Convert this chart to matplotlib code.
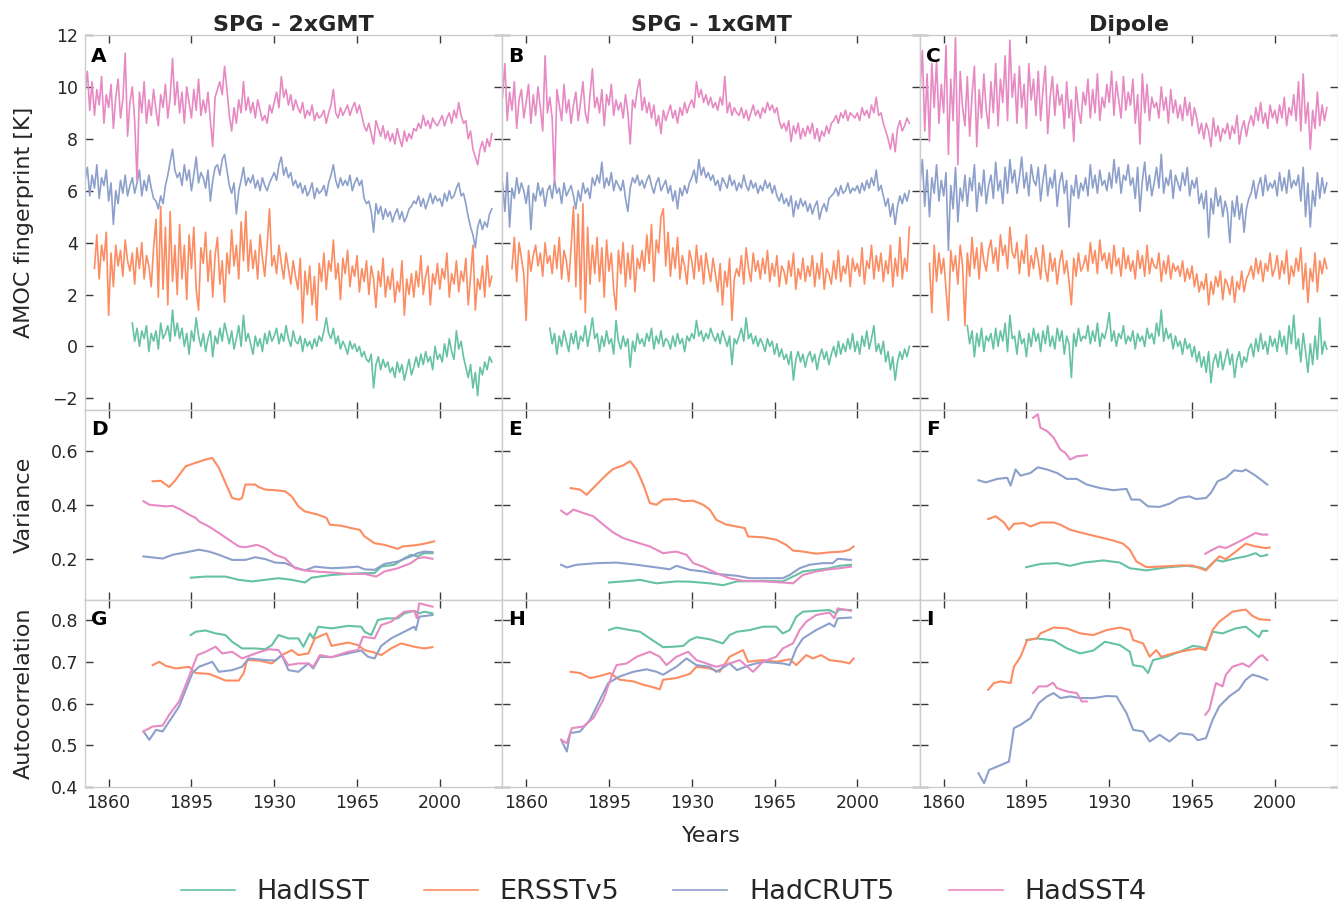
import numpy as np
import matplotlib
matplotlib.use("Agg")
import matplotlib.pyplot as plt

# ---------------- labels ----------------
series_names = ["HadISST", "ERSSTv5", "HadCRUT5", "HadSST4"]
series_colors = ["#66c2a5", "#fc8d62", "#8da0cb", "#e78ac3"]
column_titles = ["SPG - 2xGMT", "SPG - 1xGMT", "Dipole"]
panel_letters = ["A", "B", "C", "D", "E", "F", "G", "H", "I"]
row_labels = ["AMOC fingerprint [K]", "Variance", "Autocorrelation"]
start_years = [1870, 1854, 1850, 1850]
xtick_years = [1860, 1895, 1930, 1965, 2000]
fp_yticks = [-2, 0, 2, 4, 6, 8, 10, 12]
var_yticks = [0.2, 0.4, 0.6]
acf_yticks = [0.4, 0.5, 0.6, 0.7, 0.8]

# ---------------- row 1: fingerprints (annual values) -------
fp_spg2_hadisst = [
    0.9, 0.2, 0.7, 0.0, 0.6, 0.3, 0.8, -0.2, 0.5, 0.2,
    0.6, -0.1, 0.9, 0.3, 0.5, 0.8, 0.2, 1.4, 0.4, 0.9,
    0.3, 0.7, 0.0, 0.5, -0.3, 0.6, 0.2, 1.1, 0.4, 0.0,
    0.5, -0.2, 0.3, 0.6, -0.4, 0.4, 0.1, 0.7, 0.2, 0.9,
    0.5, 0.1, 0.6, -0.1, 0.3, 0.8, 0.0, 1.2, 0.2, 0.5,
    0.1, -0.3, 0.4, 0.0, 0.3, -0.2, 0.5, 0.1, 0.6, 0.2,
    0.4, 0.7, 0.1, 0.5, 0.2, 0.8, 0.3, 0.0, 0.6, 0.2,
    0.1, 0.4, -0.2, 0.3, 0.0, 0.2, -0.1, 0.3, 0.0, 0.4,
    0.2, 0.6, 1.1, 0.5, 0.3, 0.7, 0.1, 0.4, -0.1, 0.2,
    0.0, -0.3, 0.2, -0.1, 0.1, -0.2, 0.0, -0.4, -0.2, -0.5,
    -0.6, -0.3, -1.6, -0.7, -0.4, -0.9, -0.5, -0.8, -0.6, -1.0,
    -0.8, -1.2, -0.6, -1.0, -0.7, -1.3, -0.9, -0.5, -1.1, -0.8,
    -0.4, -0.8, -0.3, -0.7, -0.2, -0.6, -0.4, -0.9, 0.0, -0.5,
    -0.3, -0.6, 0.1, -0.4, 0.3, -0.2, -0.5, 0.6, -0.1, 0.2,
    -0.4, -0.8, -1.2, -0.7, -1.6, -1.0, -1.9, -0.8, -1.1, -0.6,
    -0.9, -0.4, -0.6]
fp_spg2_ersst = [
    3.0, 4.3, 2.6, 3.9, 3.3, 4.4,
    1.2, 3.6, 2.3, 3.9, 3.1, 3.7, 2.7, 4.1, 3.3, 2.9,
    3.6, 2.4, 3.8, 3.0, 4.0, 2.6, 3.5, 3.1, 2.3, 3.8,
    4.9, 1.9, 5.4, 2.2, 4.6, 1.6, 5.2, 2.5, 3.9, 2.0,
    4.7, 2.6, 3.9, 1.8, 4.3, 3.0, 4.6, 2.2, 1.4, 3.8,
    3.2, 4.4, 2.5, 3.7, 1.9, 3.5, 4.2, 2.4, 3.3, 1.7,
    3.6, 2.8, 4.5, 3.1, 3.9, 2.6, 4.8, 3.3, 5.2, 2.9,
    4.1, 3.0, 3.7, 2.6, 4.3, 3.4, 2.7, 3.9, 5.3, 3.1,
    3.5, 2.8, 3.9, 3.2, 2.6, 3.6, 3.0, 2.4, 3.3, 2.7,
    2.2, 3.4, 0.9, 2.9, 2.0, 3.1, 1.6, 2.7, 1.0, 3.2,
    2.5, 3.6, 2.2, 3.3, 2.9, 4.1, 2.6, 3.2, 1.8, 3.4,
    2.8, 3.7, 2.3, 3.1, 2.7, 3.5, 2.1, 3.0, 2.5, 3.3,
    2.0, 3.1, 2.6, 1.5, 2.9, 2.3, 3.4, 1.9, 2.7, 2.2,
    3.0, 1.7, 2.5, 2.1, 3.3, 1.2, 2.6, 2.0, 2.8, 1.9,
    2.9, 2.3, 3.5, 2.0, 2.7, 3.1, 1.6, 2.8, 2.4, 3.2,
    2.2, 3.0, 2.6, 3.6, 1.9, 2.8, 2.4, 3.3, 2.1, 2.9,
    2.5, 3.4, 1.6, 2.7, 3.9, 1.4, 2.6, 2.2, 3.1, 1.9,
    3.5, 2.3, 2.7]
fp_spg2_hadcrut = [
    6.4, 6.9, 5.8, 6.6, 6.1, 7.0, 5.7, 6.5, 6.2, 6.8,
    5.6, 6.3, 4.7, 6.0, 5.5, 6.4, 5.9, 6.6, 5.8, 6.2,
    6.5, 5.9, 6.3, 6.8, 5.8, 6.4, 6.0, 6.6, 6.1, 5.7,
    5.6, 5.3, 5.8, 5.5, 6.2, 6.6, 7.1, 7.6, 6.8, 6.5,
    6.7, 6.2, 7.0, 6.4, 6.8, 6.0, 6.6, 7.3, 6.3, 6.7,
    6.5, 6.1, 6.8, 5.6, 6.4, 6.9, 7.0, 6.6, 7.2, 7.4,
    6.8, 6.2, 5.9, 6.3, 5.1, 6.0, 6.4, 6.9, 6.2, 6.5,
    6.3, 6.6, 6.1, 6.4, 6.0, 6.5, 6.2, 6.0, 6.3, 6.5,
    6.7, 6.4, 7.0, 7.3, 6.6, 6.9, 6.5, 6.7, 6.2, 6.4,
    6.1, 6.3, 5.9, 6.2, 5.8, 6.0, 6.3, 5.7, 6.1, 5.9,
    6.0, 6.2, 5.8, 6.3, 6.6, 7.0, 6.4, 6.1, 6.5, 6.2,
    6.4, 6.2, 6.6, 6.0, 6.3, 6.5, 6.2, 6.4, 5.7, 5.5,
    5.6, 5.2, 4.4, 5.5, 5.1, 5.4, 4.9, 5.3, 5.0, 5.2,
    4.8, 5.1, 5.3, 4.9, 5.2, 4.8, 5.0, 5.3, 5.4, 5.6,
    5.5, 5.8, 5.4, 5.7, 5.3, 5.6, 5.9, 5.5, 5.8, 5.6,
    5.7, 5.4, 5.9, 5.6, 6.0, 5.7, 5.8, 6.1, 6.3, 5.8,
    5.9, 5.5, 5.0, 4.6, 4.3, 3.8, 4.6, 4.9, 4.5, 4.8,
    4.6, 5.1, 5.3]
fp_spg2_hadsst = [
    9.8, 10.6, 9.1, 10.2, 8.9, 9.9, 9.3, 10.4, 8.6, 9.7,
    9.2, 10.1, 8.4, 9.6, 10.3, 8.8, 9.5, 11.3, 8.1, 9.4,
    10.0, 8.7, 6.4, 9.8, 9.0, 10.2, 8.6, 9.5, 8.9, 9.9,
    9.1, 8.5, 9.7, 9.2, 10.1, 8.8, 9.6, 11.1, 9.3, 10.2,
    9.0, 9.8, 8.6, 10.0, 9.4, 8.8, 9.9, 9.1, 10.3, 8.9,
    9.5, 9.0, 9.8, 8.7, 7.7, 9.6, 9.9, 10.2, 9.7, 10.8,
    9.9, 8.9, 8.3, 9.2, 8.6, 9.5, 9.0, 10.2, 9.1, 9.6,
    9.0, 9.4, 8.8, 9.5, 9.1, 8.7, 8.9, 8.6, 9.3, 9.0,
    9.4, 9.8, 9.2, 10.4, 9.6, 9.9, 9.3, 9.7, 9.1, 9.5,
    9.2, 9.0, 9.4, 8.8, 9.1, 8.9, 9.3, 8.7, 9.0, 8.8,
    8.9, 9.1, 8.6, 9.0, 9.3, 9.9, 9.0, 8.8, 9.2, 8.9,
    9.1, 9.3, 8.9, 9.2, 9.4, 9.0, 9.3, 8.9, 8.5, 8.3,
    8.6, 8.2, 7.8, 8.7, 8.4, 8.1, 8.5, 8.0, 8.3, 7.9,
    8.2, 7.8, 8.4, 8.0, 7.7, 8.3, 7.9, 8.2, 8.0, 8.4,
    8.3, 8.6, 8.4, 8.9, 8.5, 8.7, 8.4, 8.8, 8.6, 8.5,
    8.7, 8.9, 8.5, 8.8, 9.0, 8.6, 9.1, 8.8, 9.4, 8.9,
    8.6, 8.7, 8.0, 8.3, 7.6, 7.3, 7.0, 7.6, 7.9, 7.5,
    8.0, 7.7, 8.2]

fp_spg1_hadisst = [
    0.7, 0.1, 0.5, -0.3, 0.4, 0.0, 0.6, 0.2, -0.2, 0.5,
    0.1, 0.6, -0.1, 0.4, 0.2, 0.8, 0.0, 0.5, 1.1, 0.3,
    0.5, -0.2, 0.4, 0.0, 0.6, 0.1, 0.3, -0.3, 1.0, 0.2,
    -0.1, 0.4, 0.0, 0.3, -0.8, 0.2, -0.2, 0.5, 0.1, 0.3,
    0.0, 0.5, 0.2, 0.7, -0.1, 0.4, 0.1, 0.6, 0.0, 0.3,
    0.2, -0.1, 0.4, 0.0, 0.5, 0.1, 0.3, -0.2, 0.4, 0.2,
    0.5, 0.3, 1.0, 0.4, 0.6, 0.2, 0.5, 0.3, 0.7, 0.4,
    0.2, 0.5, 0.1, 0.6, 0.3, 0.0, 0.4, -0.7, 0.3, 0.1,
    0.4, 0.7, 0.2, 1.1, 0.3, 0.5, 0.1, 0.4, 0.0, 0.3,
    0.1, -0.2, 0.3, 0.0, 0.2, -0.3, 0.1, -0.4, -0.1, -0.5,
    -0.3, -0.7, -0.2, -1.3, -0.5, -0.2, -0.6, -0.3, -0.8, -0.4,
    -0.2, -0.6, -0.3, -0.9, -0.4, -0.1, -0.5, -0.2, -0.7, -0.3,
    0.0, -0.4, 0.2, -0.3, 0.1, -0.2, 0.3, -0.1, 0.5, -0.2,
    0.2, -0.3, 0.4, 0.0, 0.6, -0.1, 0.3, 0.8, -0.2, 0.1,
    -0.3, 0.2, -0.6, -0.2, -0.9, -0.4, -1.3, -0.6, -0.2, -0.5,
    -0.1, -0.4, 0.0]
fp_spg1_ersst = [
    3.0, 4.2, 2.5, 4.0, 3.4, 2.8,
    1.0, 3.7, 2.9, 3.5, 3.9, 3.1, 3.6, 2.7, 4.0, 3.2,
    3.5, 2.8, 3.9, 3.0, 4.2, 2.6, 3.7, 3.3, 2.5, 3.8,
    5.4, 2.3, 5.1, 1.8, 5.5, 1.3, 4.6, 2.4, 3.9, 2.8,
    4.2, 2.5, 3.8, 1.9, 4.1, 2.9, 3.6, 2.2, 1.4, 3.7,
    2.8, 4.0, 2.3, 3.6, 2.6, 3.9, 2.1, 3.4, 3.0, 3.7,
    2.9, 4.3, 3.2, 4.7, 2.5, 4.1, 3.6, 5.0, 5.3, 3.1,
    4.4, 2.7, 3.8, 3.0, 4.2, 2.6, 3.5, 3.1, 2.4, 3.7,
    3.3, 2.6, 3.9, 2.9, 3.5, 2.4, 3.6, 3.0, 2.5, 3.4,
    2.8, 2.1, 3.2, 1.6, 2.9, 2.3, 3.4, 1.0, 2.6, 3.0,
    2.7, 3.5, 2.4, 3.8, 3.0, 2.5, 3.6, 2.9, 3.3, 2.6,
    3.4, 2.8, 3.7, 2.5, 3.2, 2.7, 3.5, 2.3, 3.1, 2.9,
    2.4, 3.3, 2.7, 3.6, 2.2, 3.0, 2.6, 3.4, 2.5, 3.1,
    2.7, 3.5, 2.3, 3.2, 2.6, 3.6, 2.2, 3.0, 2.8, 2.4,
    3.3, 2.6, 3.7, 2.5, 3.1, 2.8, 3.5, 2.3, 3.4, 2.9,
    3.2, 2.7, 3.8, 2.4, 3.3, 3.0, 3.9, 2.6, 3.5, 2.9,
    3.6, 2.5, 3.3, 2.8, 3.9, 2.3, 3.4, 2.7, 4.2, 2.6,
    3.4, 2.9, 4.6]
fp_spg1_hadcrut = [
    6.3, 5.2, 6.7, 4.6, 6.1, 5.7, 6.5, 5.9, 6.3, 6.0,
    5.5, 6.2, 4.5, 5.9, 5.6, 6.3, 5.8, 6.1, 5.4, 6.0,
    6.2, 5.7, 6.4, 5.9, 6.1, 5.5, 6.3, 5.8, 6.0, 6.2,
    5.8, 5.3, 6.0, 5.6, 6.3, 5.9, 6.1, 5.7, 6.5, 6.2,
    6.6, 6.3, 7.1, 6.1, 6.5, 6.2, 6.7, 6.0, 6.4, 6.2,
    6.0, 6.4, 5.7, 5.2, 6.1, 6.5, 6.3, 6.6, 6.2, 6.4,
    6.1, 6.4, 6.6, 6.2, 5.9, 6.3, 6.5, 6.0, 6.2, 6.4,
    5.9, 6.2, 5.6, 6.0, 5.3, 6.1, 5.8, 6.2, 5.9, 6.3,
    6.5, 6.8, 6.3, 7.2, 6.6, 6.9, 6.5, 6.7, 6.4, 6.6,
    6.2, 6.4, 6.0, 6.5, 6.3, 6.1, 6.6, 6.2, 6.4, 6.0,
    6.3, 6.1, 6.6, 6.2, 6.0, 6.4, 6.1, 6.3, 5.9, 6.2,
    6.0, 6.4, 6.1, 6.3, 5.9, 6.2, 5.8, 5.6, 5.9, 5.5,
    5.7, 5.4, 5.8, 5.0, 5.6, 5.3, 5.7, 5.4, 5.6, 5.2,
    5.5, 5.1, 5.4, 5.6, 4.9, 5.3, 5.5, 5.2, 5.7, 5.8,
    5.9, 6.1, 5.8, 6.2, 5.9, 6.0, 6.3, 5.9, 6.1, 6.0,
    6.2, 5.9, 6.3, 6.0, 6.4, 6.1, 6.5, 6.2, 6.8, 6.0,
    6.2, 5.8, 5.4, 5.7, 5.0, 5.5, 4.7, 5.4, 5.8, 5.5,
    5.9, 5.6, 6.0]
fp_spg1_hadsst = [
    9.6, 10.9, 8.7, 9.8, 9.1, 10.2, 8.4, 9.5, 9.9, 8.8,
    9.4, 10.1, 8.6, 9.7, 8.9, 10.0, 9.2, 8.3, 11.2, 9.0,
    9.6, 8.8, 6.3, 9.9, 9.3, 8.7, 10.1, 9.0, 9.5, 8.6,
    9.3, 9.8, 8.7, 9.4, 10.2, 9.0, 8.6, 9.7, 10.7, 9.2,
    9.6, 9.0, 9.9, 8.5, 9.7, 9.3, 10.1, 8.9, 9.5, 9.1,
    9.4, 8.8, 9.7, 9.0, 7.8, 9.5, 9.2, 9.9, 10.3, 9.1,
    9.6, 9.0, 9.4, 8.8, 9.3, 8.5, 8.9, 8.2, 9.1, 8.7,
    9.0, 9.3, 8.8, 9.1, 8.6, 9.2, 8.9, 9.4, 9.0, 9.3,
    9.5, 9.2, 10.2, 9.6, 9.9, 9.4, 9.7, 9.3, 9.6, 9.2,
    9.4, 9.1, 9.6, 9.3, 10.4, 9.0, 9.4, 8.9, 9.2, 9.0,
    8.9, 9.2, 8.8, 9.1, 8.7, 9.0, 9.3, 8.9, 9.1, 8.8,
    9.2, 9.0, 9.4, 9.1, 9.3, 9.0, 9.2, 8.7, 8.4, 8.6,
    8.3, 8.7, 7.9, 8.5, 8.2, 8.6, 8.0, 8.4, 8.1, 8.5,
    8.2, 8.6, 8.0, 8.4, 7.9, 8.3, 8.1, 8.5, 8.2, 8.6,
    8.7, 8.9, 8.6, 9.0, 8.8, 9.1, 8.7, 9.0, 8.9, 8.8,
    9.0, 8.7, 9.2, 8.9, 9.1, 8.8, 9.3, 9.0, 9.6, 8.9,
    9.0, 8.6, 8.3, 8.0, 7.6, 8.2, 7.5, 8.4, 8.7, 8.3,
    8.5, 8.8, 8.6]

fp_dip_hadisst = [
    0.8, 0.1, 0.6, -0.4, 0.5, 0.0, 0.7, -0.2, 0.4, 0.2,
    0.5, -0.1, 0.7, 0.0, 0.6, 0.2, 0.9, -0.2, 1.2, 0.3,
    0.4, -0.3, 0.6, 0.1, 0.3, -0.4, 0.5, 0.0, 0.7, 0.2,
    0.5, -0.2, 0.6, 0.1, 0.8, 0.0, 0.4, -0.1, 0.7, 0.2,
    0.6, -0.3, 0.4, 0.1, -1.2, 0.5, 0.0, 0.7, 0.2, 0.4,
    0.3, 0.8, 0.1, 0.6, 0.2, 0.9, 0.0, 0.5, 0.3, 0.7,
    1.3, 0.2, 0.6, 0.0, 0.5, 0.3, 0.8, 0.1, 0.4, 0.2,
    0.6, -0.1, 0.5, 0.2, 0.4, 0.0, 0.7, 0.3, 0.5, 0.1,
    0.9, 0.4, 1.4, 0.2, 0.7, 0.3, 0.5, -0.1, 0.4, 0.0,
    0.2, -0.3, 0.3, -0.1, 0.1, -0.4, 0.0, -0.6, -0.2, -0.8,
    -0.4, -1.0, -0.2, -1.4, -0.6, -0.3, -0.8, -0.2, -0.9, -0.5,
    -0.1, -0.7, -0.3, -1.2, -0.5, -0.2, -0.8, -0.4, -0.6, -0.1,
    0.1, -0.4, 0.3, -0.2, 0.5, -0.1, 0.2, -0.3, 0.4, 0.0,
    0.3, -0.2, 0.6, 0.0, 0.4, -0.3, 0.8, 0.1, 1.2, -0.1,
    0.3, -0.6, 0.5, -0.2, -1.0, 0.1, -0.7, 0.4, -0.5, 1.1,
    -0.3, 0.2, -0.1]
fp_dip_ersst = [
    3.2, 1.3, 3.9, 2.5, 3.6, 2.8,
    3.4, 2.2, 1.0, 3.7, 2.9, 3.5, 2.4, 3.9, 3.1, 0.8,
    3.6, 2.7, 4.2, 3.0, 3.8, 2.6, 4.0, 3.3, 2.9, 3.7,
    4.1, 3.2, 3.8, 2.9, 4.3, 3.5, 3.9, 3.0, 4.6, 3.6,
    3.4, 4.0, 2.8, 3.7, 3.2, 4.3, 2.7, 3.5, 3.0, 3.8,
    3.3, 2.6, 3.9, 3.0, 2.5, 3.6, 2.9, 3.4, 2.4, 3.2,
    3.7, 2.8, 3.3, 2.5, 1.6, 3.4, 2.7, 3.6, 2.9, 3.1,
    3.5, 2.9, 4.0, 3.2, 3.7, 2.8, 4.1, 3.3, 3.6, 3.0,
    3.6, 2.8, 3.9, 3.1, 3.4, 2.7, 3.8, 3.0, 3.5, 2.9,
    3.3, 2.6, 3.7, 3.0, 3.5, 2.7, 3.9, 2.8, 3.4, 3.1,
    3.0, 3.6, 2.5, 3.3, 2.8, 3.5, 2.6, 3.2, 2.9, 3.1,
    2.7, 3.3, 2.5, 3.0, 2.6, 3.1, 2.3, 2.8, 2.1, 2.5,
    2.2, 2.8, 1.6, 2.5, 2.0, 2.7, 2.3, 2.9, 1.8, 2.6,
    2.4, 2.0, 2.7, 1.7, 2.5, 2.2, 2.9, 2.1, 2.6, 2.8,
    3.1, 2.6, 3.4, 2.8, 3.3, 2.5, 3.2, 2.9, 3.6, 2.7,
    3.0, 3.5, 2.6, 3.3, 2.8, 3.7, 2.4, 3.1, 2.7, 3.4,
    2.9, 3.8, 2.2, 3.2, 1.7, 3.0, 2.5, 3.6, 2.1, 3.3,
    2.8, 3.4, 3.0]
fp_dip_hadcrut = [
    6.3, 7.2, 5.4, 6.8, 5.0, 6.5, 5.9, 7.0, 5.6, 6.4,
    5.8, 6.7, 3.7, 6.2, 5.3, 6.9, 4.8, 6.1, 5.6, 6.6,
    5.4, 6.5, 6.0, 7.0, 5.2, 6.3, 5.8, 6.8, 5.5, 6.2,
    6.6, 5.7, 7.1, 6.0, 6.4, 5.5, 6.9, 5.9, 7.2, 6.3,
    6.8, 5.9, 6.5, 7.3, 6.1, 6.7, 5.8, 7.0, 6.4, 6.2,
    6.9, 5.6, 6.4, 7.0, 5.8, 6.5, 6.1, 6.8, 5.4, 6.3,
    6.7, 5.9, 6.4, 4.6, 6.2, 5.8, 6.6, 5.7, 6.3, 6.0,
    6.5, 5.8, 7.0, 6.1, 6.6, 5.9, 6.8, 6.2, 6.4, 6.0,
    6.7, 6.1, 7.2, 6.3, 6.9, 5.9, 6.6, 6.4, 7.0, 6.2,
    6.5, 5.7, 6.9, 5.2, 6.4, 7.1, 6.0, 6.6, 5.8, 6.3,
    6.9, 6.1, 7.4, 5.9, 6.5, 6.2, 6.8, 5.7, 6.6, 6.3,
    6.0, 6.7, 6.2, 6.9, 5.8, 6.4, 6.1, 6.5, 5.5, 5.9,
    5.3, 6.0, 4.2, 5.7, 5.1, 6.1, 5.4, 5.8, 5.0, 5.6,
    5.2, 4.0, 5.6, 5.0, 5.8, 4.9, 5.5, 4.4, 5.3, 5.7,
    5.9, 6.4, 5.7, 6.2, 6.5, 5.8, 6.6, 6.0, 6.3, 6.1,
    6.4, 5.8, 6.7, 6.0, 6.5, 5.9, 6.8, 6.1, 6.4, 6.2,
    6.6, 5.6, 6.9, 5.0, 6.3, 4.6, 6.0, 5.4, 6.7, 5.7,
    6.5, 5.9, 6.3]
fp_dip_hadsst = [
    9.8, 11.4, 8.3, 10.5, 7.9, 10.9, 9.2, 11.0, 8.6, 10.1,
    9.0, 11.6, 7.4, 10.3, 8.7, 11.9, 7.0, 10.6, 9.2, 8.5,
    10.4, 8.1, 9.7, 10.8, 7.7, 9.9, 8.8, 10.5, 9.1, 8.4,
    10.2, 9.0, 10.9, 8.5, 10.3, 9.4, 11.2, 8.7, 11.8, 9.6,
    10.5, 8.6, 10.8, 9.2, 10.1, 8.4, 10.9, 9.5, 10.3, 8.9,
    10.6, 8.7, 9.9, 10.8, 8.2, 9.6, 10.4, 8.9, 10.1, 9.3,
    9.7, 8.4, 10.2, 8.8, 9.5, 7.9, 10.0, 9.1, 8.6, 9.8,
    9.3, 10.3, 8.8, 9.9, 9.0, 10.5, 8.7, 9.6, 9.2, 10.1,
    9.4, 10.6, 8.9, 10.2, 9.5, 8.8, 10.4, 9.1, 9.8, 9.3,
    10.3, 8.6, 9.7, 7.8, 10.5, 9.0, 10.1, 8.7, 9.6, 9.2,
    9.4, 8.8, 10.0, 9.1, 9.6, 8.6, 9.9, 9.0, 9.5, 8.8,
    9.3, 8.7, 9.6, 8.9, 9.4, 8.5, 9.2, 8.8, 8.2, 8.6,
    8.0, 8.6, 8.3, 7.7, 8.8, 8.1, 8.5, 7.9, 8.4, 8.2,
    8.6, 8.0, 8.5, 8.2, 8.9, 7.8, 8.4, 8.7, 8.1, 8.6,
    8.9, 8.5, 9.2, 8.7, 9.4, 8.6, 9.0, 8.4, 9.3, 8.8,
    9.1, 8.6, 9.3, 8.8, 9.6, 8.5, 9.2, 8.9, 9.7, 8.7,
    10.2, 8.3, 10.5, 8.6, 9.4, 7.6, 9.1, 8.4, 9.8, 8.5,
    9.3, 8.7, 9.2]

# ---------------- row 2: variance (x = centre year of window) -------------
var_spg2_hadisst_yr = [1894.7, 1901.0, 1909.4, 1915.0, 1920.6, 1926.2, 1931.8, 1937.4, 1943.0, 1945.8, 1954.2, 1961.2, 1968.2, 1972.4, 1975.2, 1980.8, 1985.0, 1987.8, 1990.6, 1993.4, 1996.9]
var_spg2_hadisst = [0.130, 0.134, 0.134, 0.122, 0.116, 0.122, 0.128, 0.122, 0.112, 0.130, 0.140, 0.144, 0.147, 0.147, 0.171, 0.178, 0.202, 0.215, 0.209, 0.221, 0.221]
var_spg2_ersst_yr = [1878.6, 1882.0, 1885.6, 1888.0, 1892.6, 1896.8, 1901.0, 1903.8, 1906.6, 1909.4, 1912.2, 1915.0, 1916.4, 1917.8, 1922.0, 1923.4, 1926.2, 1930.4, 1934.6, 1937.4, 1940.2, 1943.0, 1948.6, 1952.1, 1953.5, 1958.4, 1962.6, 1966.1, 1968.2, 1972.4, 1976.6, 1982.2, 1984.3, 1989.2, 1993.4, 1997.6]
var_spg2_ersst = [0.488, 0.490, 0.467, 0.490, 0.544, 0.557, 0.569, 0.575, 0.538, 0.482, 0.426, 0.420, 0.426, 0.476, 0.476, 0.467, 0.457, 0.455, 0.451, 0.432, 0.395, 0.376, 0.364, 0.352, 0.327, 0.323, 0.314, 0.308, 0.283, 0.258, 0.252, 0.237, 0.246, 0.250, 0.256, 0.265]
var_spg2_hadcrut_yr = [1874.7, 1882.8, 1887.0, 1892.6, 1898.2, 1902.4, 1906.6, 1912.2, 1917.8, 1922.0, 1926.2, 1930.4, 1934.6, 1938.8, 1943.0, 1947.2, 1954.2, 1961.2, 1965.4, 1968.2, 1972.4, 1976.6, 1982.2, 1987.8, 1990.6, 1993.4, 1996.9]
var_spg2_hadcrut = [0.209, 0.201, 0.215, 0.224, 0.234, 0.227, 0.215, 0.196, 0.196, 0.206, 0.199, 0.186, 0.184, 0.168, 0.157, 0.171, 0.165, 0.168, 0.171, 0.161, 0.159, 0.181, 0.190, 0.209, 0.221, 0.227, 0.225]
var_spg2_hadsst_yr = [1874.7, 1877.2, 1884.2, 1887.0, 1890.5, 1894.0, 1896.8, 1898.2, 1902.4, 1906.6, 1910.8, 1915.0, 1917.8, 1922.7, 1926.2, 1930.4, 1934.6, 1938.8, 1943.0, 1947.2, 1954.2, 1961.2, 1968.2, 1973.1, 1976.6, 1982.2, 1987.8, 1990.6, 1993.4, 1996.9]
var_spg2_hadsst = [0.414, 0.401, 0.395, 0.397, 0.383, 0.364, 0.352, 0.339, 0.320, 0.296, 0.271, 0.246, 0.243, 0.252, 0.240, 0.215, 0.202, 0.165, 0.157, 0.153, 0.149, 0.144, 0.144, 0.134, 0.153, 0.165, 0.184, 0.202, 0.206, 0.200]

var_spg1_hadisst_yr = [1895.0, 1903.9, 1908.1, 1915.1, 1923.5, 1929.2, 1937.6, 1943.2, 1949.1, 1960.1, 1968.5, 1972.8, 1977.0, 1982.6, 1988.2, 1992.4, 1997.3]
var_spg1_hadisst = [0.112, 0.118, 0.122, 0.109, 0.116, 0.115, 0.109, 0.102, 0.116, 0.118, 0.116, 0.134, 0.153, 0.159, 0.165, 0.174, 0.178]
var_spg1_ersst_yr = [1878.8, 1882.8, 1885.6, 1889.8, 1894.0, 1896.8, 1901.0, 1903.9, 1906.7, 1909.5, 1912.3, 1915.1, 1917.9, 1923.5, 1926.4, 1930.6, 1934.8, 1937.6, 1940.4, 1944.6, 1949.1, 1952.4, 1953.8, 1960.1, 1965.7, 1969.9, 1972.8, 1977.0, 1982.6, 1988.2, 1993.8, 1996.7, 1998.4]
var_spg1_ersst = [0.463, 0.457, 0.438, 0.476, 0.513, 0.534, 0.547, 0.563, 0.532, 0.476, 0.407, 0.401, 0.420, 0.422, 0.414, 0.416, 0.401, 0.383, 0.345, 0.327, 0.320, 0.314, 0.283, 0.280, 0.271, 0.252, 0.231, 0.227, 0.219, 0.224, 0.227, 0.234, 0.246]
var_spg1_hadcrut_yr = [1874.8, 1877.2, 1881.4, 1889.8, 1898.2, 1906.7, 1915.1, 1920.7, 1923.5, 1929.2, 1934.8, 1940.4, 1949.1, 1954.5, 1962.9, 1968.5, 1971.4, 1975.6, 1979.8, 1985.4, 1989.6, 1991.7, 1997.3]
var_spg1_hadcrut = [0.178, 0.168, 0.178, 0.184, 0.186, 0.178, 0.168, 0.161, 0.174, 0.159, 0.153, 0.144, 0.137, 0.128, 0.128, 0.128, 0.140, 0.165, 0.178, 0.184, 0.184, 0.200, 0.196]
var_spg1_hadsst_yr = [1874.8, 1877.2, 1880.0, 1884.2, 1888.4, 1892.6, 1896.8, 1901.0, 1906.7, 1912.3, 1917.9, 1923.5, 1927.8, 1930.6, 1934.8, 1940.4, 1946.0, 1951.7, 1960.1, 1968.5, 1972.8, 1977.0, 1982.6, 1988.2, 1992.4, 1997.3]
var_spg1_hadsst = [0.379, 0.364, 0.383, 0.370, 0.358, 0.327, 0.298, 0.277, 0.261, 0.246, 0.221, 0.227, 0.215, 0.184, 0.171, 0.147, 0.128, 0.118, 0.116, 0.112, 0.109, 0.140, 0.153, 0.161, 0.165, 0.171]

var_dip_hadisst_yr = [1894.9, 1900.9, 1907.9, 1913.5, 1919.1, 1927.5, 1934.5, 1938.7, 1945.7, 1954.1, 1962.5, 1968.1, 1970.9, 1975.1, 1977.9, 1983.5, 1987.7, 1991.9, 1994.0, 1996.8]
var_dip_hadisst = [0.169, 0.181, 0.184, 0.174, 0.186, 0.194, 0.186, 0.165, 0.157, 0.168, 0.174, 0.169, 0.161, 0.196, 0.190, 0.202, 0.209, 0.221, 0.209, 0.215]
var_dip_ersst_yr = [1878.8, 1882.0, 1885.5, 1887.6, 1889.7, 1893.9, 1896.7, 1900.9, 1906.5, 1909.3, 1913.5, 1917.7, 1921.9, 1927.5, 1931.7, 1935.9, 1938.7, 1941.5, 1945.7, 1951.3, 1959.7, 1965.3, 1970.9, 1973.7, 1976.5, 1979.3, 1983.5, 1987.7, 1991.9, 1996.1, 1997.8]
var_dip_ersst = [0.348, 0.358, 0.335, 0.308, 0.330, 0.333, 0.320, 0.335, 0.335, 0.327, 0.308, 0.298, 0.289, 0.277, 0.268, 0.256, 0.234, 0.190, 0.169, 0.171, 0.175, 0.175, 0.157, 0.184, 0.209, 0.199, 0.227, 0.256, 0.246, 0.240, 0.242]
var_dip_hadcrut_yr = [1874.7, 1877.8, 1882.7, 1886.9, 1888.3, 1890.4, 1892.5, 1896.7, 1899.8, 1903.7, 1907.9, 1912.1, 1916.3, 1920.5, 1926.1, 1931.7, 1937.3, 1939.4, 1942.9, 1946.4, 1951.3, 1955.5, 1959.7, 1963.9, 1966.7, 1970.9, 1973.0, 1975.8, 1979.3, 1982.8, 1986.3, 1987.7, 1991.9, 1996.8]
var_dip_hadcrut = [0.492, 0.484, 0.497, 0.501, 0.472, 0.532, 0.509, 0.519, 0.540, 0.532, 0.519, 0.497, 0.497, 0.476, 0.463, 0.455, 0.460, 0.420, 0.420, 0.395, 0.393, 0.405, 0.426, 0.432, 0.422, 0.426, 0.445, 0.488, 0.501, 0.529, 0.525, 0.532, 0.509, 0.476]
var_dip_hadsst_yr = [1897.8, 1899.8, 1900.9, 1903.7, 1906.5, 1909.3, 1911.4, 1913.5, 1916.3, 1920.5, 1945.0, 1970.6, 1973.7, 1976.5, 1979.3, 1983.5, 1987.7, 1991.9, 1994.7, 1996.8]
var_dip_hadsst = [0.724, 0.737, 0.687, 0.675, 0.650, 0.606, 0.594, 0.569, 0.581, 0.585, np.nan, 0.219, 0.234, 0.246, 0.240, 0.258, 0.277, 0.296, 0.290, 0.290]

# ---------------- row 3: lag-1 autocorrelation -------------
acf_spg2_hadisst_yr = [1894.7, 1896.8, 1901.0, 1905.2, 1909.4, 1912.2, 1916.4, 1922.0, 1926.2, 1929.0, 1931.8, 1936.0, 1940.2, 1942.3, 1945.1, 1946.5, 1948.6, 1954.2, 1961.2, 1966.8, 1968.2, 1971.0, 1973.8, 1977.3, 1982.2, 1985.0, 1989.2, 1991.3, 1993.4, 1996.9]
acf_spg2_hadisst = [0.764, 0.772, 0.775, 0.768, 0.764, 0.748, 0.732, 0.732, 0.730, 0.740, 0.764, 0.756, 0.756, 0.736, 0.768, 0.756, 0.784, 0.780, 0.786, 0.784, 0.772, 0.764, 0.800, 0.804, 0.804, 0.816, 0.822, 0.816, 0.820, 0.816]
acf_spg2_ersst_yr = [1878.6, 1881.4, 1884.2, 1888.4, 1894.0, 1896.8, 1902.4, 1905.2, 1909.4, 1915.0, 1917.1, 1918.5, 1923.4, 1929.0, 1933.2, 1937.4, 1940.2, 1944.4, 1947.2, 1952.1, 1954.2, 1961.2, 1965.4, 1968.2, 1972.4, 1975.2, 1979.4, 1983.6, 1989.2, 1993.4, 1996.9]
acf_spg2_ersst = [0.692, 0.700, 0.690, 0.684, 0.688, 0.673, 0.671, 0.665, 0.655, 0.655, 0.673, 0.704, 0.703, 0.696, 0.716, 0.728, 0.716, 0.720, 0.756, 0.768, 0.738, 0.746, 0.740, 0.728, 0.722, 0.716, 0.732, 0.744, 0.736, 0.732, 0.735]
acf_spg2_hadcrut_yr = [1874.7, 1877.2, 1880.0, 1882.8, 1885.6, 1889.8, 1892.6, 1895.4, 1898.2, 1903.8, 1906.6, 1912.2, 1916.4, 1919.2, 1926.2, 1930.4, 1933.2, 1936.0, 1940.2, 1944.4, 1946.5, 1949.3, 1954.2, 1961.2, 1966.8, 1969.6, 1972.4, 1975.2, 1979.4, 1985.0, 1989.2, 1989.9, 1991.3, 1996.9]
acf_spg2_hadcrut = [0.533, 0.513, 0.537, 0.533, 0.557, 0.593, 0.633, 0.673, 0.688, 0.700, 0.676, 0.680, 0.688, 0.708, 0.704, 0.703, 0.716, 0.680, 0.676, 0.696, 0.684, 0.712, 0.711, 0.720, 0.727, 0.712, 0.708, 0.738, 0.756, 0.772, 0.784, 0.776, 0.808, 0.812]
acf_spg2_hadsst_yr = [1874.7, 1878.6, 1882.8, 1885.6, 1889.8, 1894.0, 1897.5, 1901.0, 1905.2, 1908.0, 1912.2, 1916.4, 1922.0, 1927.6, 1931.8, 1936.0, 1940.2, 1944.4, 1946.5, 1949.3, 1954.2, 1961.2, 1965.4, 1967.5, 1972.4, 1975.2, 1979.4, 1985.0, 1989.2, 1990.3, 1991.3, 1996.9]
acf_spg2_hadsst = [0.533, 0.545, 0.547, 0.573, 0.605, 0.665, 0.716, 0.724, 0.736, 0.720, 0.724, 0.708, 0.720, 0.730, 0.728, 0.692, 0.696, 0.696, 0.688, 0.716, 0.711, 0.724, 0.728, 0.760, 0.756, 0.788, 0.796, 0.820, 0.822, 0.804, 0.840, 0.832]

acf_spg1_hadisst_yr = [1895.0, 1898.2, 1903.9, 1908.1, 1912.3, 1917.9, 1922.1, 1926.4, 1929.2, 1932.0, 1937.6, 1943.2, 1946.0, 1949.1, 1954.5, 1960.1, 1965.7, 1968.5, 1971.4, 1974.2, 1977.0, 1982.6, 1988.2, 1990.9, 1992.4, 1997.3]
acf_spg1_hadisst = [0.776, 0.782, 0.776, 0.772, 0.756, 0.735, 0.736, 0.738, 0.752, 0.759, 0.754, 0.744, 0.764, 0.772, 0.776, 0.784, 0.784, 0.768, 0.776, 0.808, 0.820, 0.822, 0.824, 0.816, 0.825, 0.824]
acf_spg1_ersst_yr = [1878.8, 1882.8, 1887.0, 1891.2, 1895.4, 1899.6, 1905.3, 1909.5, 1913.7, 1916.5, 1917.9, 1923.5, 1929.2, 1932.0, 1937.6, 1941.8, 1946.0, 1951.7, 1953.8, 1960.1, 1965.7, 1971.4, 1974.2, 1978.4, 1981.2, 1984.7, 1988.2, 1993.8, 1996.7, 1998.4]
acf_spg1_ersst = [0.676, 0.673, 0.661, 0.666, 0.673, 0.657, 0.653, 0.645, 0.639, 0.634, 0.657, 0.661, 0.671, 0.688, 0.684, 0.676, 0.712, 0.728, 0.700, 0.704, 0.700, 0.706, 0.692, 0.716, 0.708, 0.716, 0.704, 0.700, 0.696, 0.708]
acf_spg1_hadcrut_yr = [1874.8, 1877.2, 1878.6, 1882.8, 1887.0, 1891.2, 1894.7, 1899.6, 1905.3, 1910.9, 1915.1, 1917.9, 1923.5, 1927.8, 1932.0, 1937.6, 1940.4, 1946.0, 1949.1, 1954.5, 1960.1, 1968.5, 1971.4, 1974.2, 1977.0, 1982.6, 1988.2, 1990.3, 1991.7, 1997.3]
acf_spg1_hadcrut = [0.513, 0.485, 0.529, 0.533, 0.561, 0.609, 0.649, 0.665, 0.676, 0.682, 0.676, 0.669, 0.688, 0.708, 0.692, 0.688, 0.676, 0.696, 0.680, 0.692, 0.700, 0.696, 0.692, 0.732, 0.756, 0.776, 0.792, 0.784, 0.804, 0.806]
acf_spg1_hadsst_yr = [1874.8, 1877.2, 1879.3, 1884.2, 1888.4, 1892.6, 1896.1, 1898.2, 1902.5, 1906.7, 1912.3, 1916.5, 1919.3, 1923.5, 1928.5, 1932.0, 1936.2, 1940.4, 1946.0, 1950.3, 1955.9, 1960.1, 1965.7, 1968.5, 1972.8, 1975.6, 1978.4, 1982.6, 1988.2, 1990.3, 1991.7, 1997.3]
acf_spg1_hadsst = [0.513, 0.505, 0.541, 0.545, 0.565, 0.609, 0.665, 0.692, 0.696, 0.712, 0.724, 0.712, 0.692, 0.712, 0.724, 0.704, 0.696, 0.688, 0.696, 0.704, 0.676, 0.700, 0.712, 0.732, 0.744, 0.776, 0.796, 0.812, 0.818, 0.804, 0.828, 0.822]

acf_dip_hadisst_yr = [1894.9, 1899.5, 1906.5, 1912.1, 1917.7, 1923.3, 1928.2, 1934.5, 1938.7, 1940.1, 1944.3, 1946.4, 1948.5, 1954.1, 1959.7, 1965.3, 1968.1, 1970.9, 1973.7, 1977.9, 1983.5, 1987.7, 1993.3, 1994.7, 1996.8]
acf_dip_hadisst = [0.752, 0.756, 0.751, 0.732, 0.720, 0.727, 0.748, 0.740, 0.724, 0.692, 0.688, 0.673, 0.704, 0.712, 0.724, 0.738, 0.736, 0.732, 0.772, 0.768, 0.780, 0.784, 0.759, 0.774, 0.774]
acf_dip_ersst_yr = [1878.8, 1881.3, 1884.1, 1888.3, 1889.7, 1892.5, 1895.3, 1899.5, 1900.9, 1906.5, 1912.1, 1917.7, 1923.3, 1928.9, 1934.5, 1938.7, 1940.1, 1944.3, 1947.1, 1949.9, 1952.0, 1956.9, 1962.5, 1968.1, 1970.9, 1973.7, 1976.5, 1982.1, 1986.3, 1987.7, 1990.5, 1993.3, 1997.8]
acf_dip_ersst = [0.633, 0.649, 0.653, 0.649, 0.688, 0.712, 0.752, 0.756, 0.768, 0.782, 0.780, 0.768, 0.764, 0.776, 0.782, 0.776, 0.752, 0.744, 0.712, 0.728, 0.712, 0.720, 0.727, 0.732, 0.728, 0.776, 0.796, 0.820, 0.824, 0.825, 0.810, 0.802, 0.800]
acf_dip_hadcrut_yr = [1874.7, 1877.1, 1879.2, 1882.7, 1887.6, 1889.7, 1892.5, 1896.7, 1900.2, 1903.7, 1906.5, 1909.3, 1913.5, 1917.7, 1923.3, 1928.9, 1933.1, 1937.3, 1940.1, 1944.3, 1947.1, 1951.3, 1955.5, 1959.7, 1965.3, 1967.4, 1970.9, 1973.7, 1976.5, 1980.7, 1984.9, 1987.7, 1990.5, 1993.3, 1996.8]
acf_dip_hadcrut = [0.433, 0.409, 0.441, 0.449, 0.461, 0.541, 0.549, 0.565, 0.601, 0.617, 0.625, 0.613, 0.617, 0.613, 0.613, 0.618, 0.617, 0.577, 0.537, 0.533, 0.509, 0.525, 0.509, 0.529, 0.525, 0.512, 0.517, 0.561, 0.593, 0.617, 0.634, 0.657, 0.669, 0.665, 0.657]
acf_dip_hadsst_yr = [1897.8, 1900.2, 1903.7, 1906.2, 1907.9, 1912.1, 1916.3, 1918.4, 1920.5, 1945.0, 1970.6, 1972.3, 1975.1, 1977.9, 1979.3, 1982.1, 1986.3, 1989.1, 1993.3, 1994.7, 1996.8]
acf_dip_hadsst = [0.625, 0.641, 0.641, 0.650, 0.637, 0.629, 0.625, 0.605, 0.605, np.nan, 0.573, 0.585, 0.649, 0.641, 0.669, 0.688, 0.696, 0.688, 0.712, 0.716, 0.704]

# ---------------- assemble ----------------
fp_cols = [
    [fp_spg2_hadisst, fp_spg2_ersst, fp_spg2_hadcrut, fp_spg2_hadsst],
    [fp_spg1_hadisst, fp_spg1_ersst, fp_spg1_hadcrut, fp_spg1_hadsst],
    [fp_dip_hadisst, fp_dip_ersst, fp_dip_hadcrut, fp_dip_hadsst],
]
var_cols = [
    [(var_spg2_hadisst_yr, var_spg2_hadisst), (var_spg2_ersst_yr, var_spg2_ersst),
     (var_spg2_hadcrut_yr, var_spg2_hadcrut), (var_spg2_hadsst_yr, var_spg2_hadsst)],
    [(var_spg1_hadisst_yr, var_spg1_hadisst), (var_spg1_ersst_yr, var_spg1_ersst),
     (var_spg1_hadcrut_yr, var_spg1_hadcrut), (var_spg1_hadsst_yr, var_spg1_hadsst)],
    [(var_dip_hadisst_yr, var_dip_hadisst), (var_dip_ersst_yr, var_dip_ersst),
     (var_dip_hadcrut_yr, var_dip_hadcrut), (var_dip_hadsst_yr, var_dip_hadsst)],
]
acf_cols = [
    [(acf_spg2_hadisst_yr, acf_spg2_hadisst), (acf_spg2_ersst_yr, acf_spg2_ersst),
     (acf_spg2_hadcrut_yr, acf_spg2_hadcrut), (acf_spg2_hadsst_yr, acf_spg2_hadsst)],
    [(acf_spg1_hadisst_yr, acf_spg1_hadisst), (acf_spg1_ersst_yr, acf_spg1_ersst),
     (acf_spg1_hadcrut_yr, acf_spg1_hadcrut), (acf_spg1_hadsst_yr, acf_spg1_hadsst)],
    [(acf_dip_hadisst_yr, acf_dip_hadisst), (acf_dip_ersst_yr, acf_dip_ersst),
     (acf_dip_hadcrut_yr, acf_dip_hadcrut), (acf_dip_hadsst_yr, acf_dip_hadsst)],
]

TEXT = "#262626"
SPINE = "#cccccc"

W, H = 1338, 905
fig = plt.figure(figsize=(W / 100, H / 100), dpi=100)
gs = fig.add_gridspec(3, 3, left=85 / W, right=1337.5 / W, top=1 - 35 / H,
                      bottom=1 - 787 / H, height_ratios=[375, 190, 187],
                      hspace=0, wspace=0)
axes = [[fig.add_subplot(gs[r, c]) for c in range(3)] for r in range(3)]

handles = []
for c in range(3):
    ax = axes[0][c]
    for k in range(4):
        vals = np.array(fp_cols[c][k], dtype=float)
        yrs = start_years[k] + np.arange(len(vals))
        ln, = ax.plot(yrs, vals, color=series_colors[k], lw=1.2)
        if c == 0:
            handles.append(ln)
    for r, data in ((1, var_cols[c]), (2, acf_cols[c])):
        ax = axes[r][c]
        for k in range(4):
            yr, v = data[k]
            n = min(len(yr), len(v))
            ax.plot(np.array(yr[:n], float), np.array(v[:n], float),
                    color=series_colors[k], lw=1.5)

ylims = [(-2.45, 12), (0.047, 0.753), (0.4, 0.848)]
yticks = [fp_yticks, var_yticks, acf_yticks]
yfmt = ["{:.0f}", "{:.1f}", "{:.1f}"]
for r in range(3):
    for c in range(3):
        ax = axes[r][c]
        ax.set_facecolor("white")
        ax.set_xlim(1850, 2026.5)
        ax.set_ylim(*ylims[r])
        ax.set_xticks(xtick_years)
        ax.set_yticks(yticks[r])
        ax.set_xticklabels([str(y) for y in xtick_years])
        ax.set_yticklabels([yfmt[r].format(v).replace("-", "\u2212") for v in yticks[r]])
        for s in ax.spines.values():
            s.set_color(SPINE)
            s.set_linewidth(1.0)
        ax.tick_params(axis="both", direction="in", length=6, width=1,
                       color="#3a3a3a", labelsize=12.5, labelcolor=TEXT, pad=5)
        ax.tick_params(top=True, right=True, bottom=True, left=True,
                       labelbottom=(r == 2), labelleft=(c == 0))
        ax.annotate(panel_letters[r * 3 + c], xy=(0, 1), xycoords="axes fraction",
                    xytext=(6, -12 if r == 0 else -10), textcoords="offset pixels",
                    ha="left", va="top", fontsize=14.5, fontweight="bold",
                    color="black")
        if c == 0:
            ax.set_ylabel(row_labels[r], fontsize=16, color=TEXT)
            ax.yaxis.set_label_coords(-0.122, 0.5)
        if r == 0:
            ax.set_title(column_titles[c], fontsize=16, fontweight="bold",
                         color=TEXT, pad=2)

axes[2][1].set_xlabel("Years", fontsize=16, color=TEXT, labelpad=10)

fig.legend(handles, series_names, loc="center", bbox_to_anchor=(0.496, 1 - 892 / H),
           ncol=4, frameon=False, fontsize=19.5, handlelength=2.0,
           handletextpad=0.8, columnspacing=2.0, labelcolor=TEXT)

fig.savefig("out.png", dpi=100, facecolor="white")
